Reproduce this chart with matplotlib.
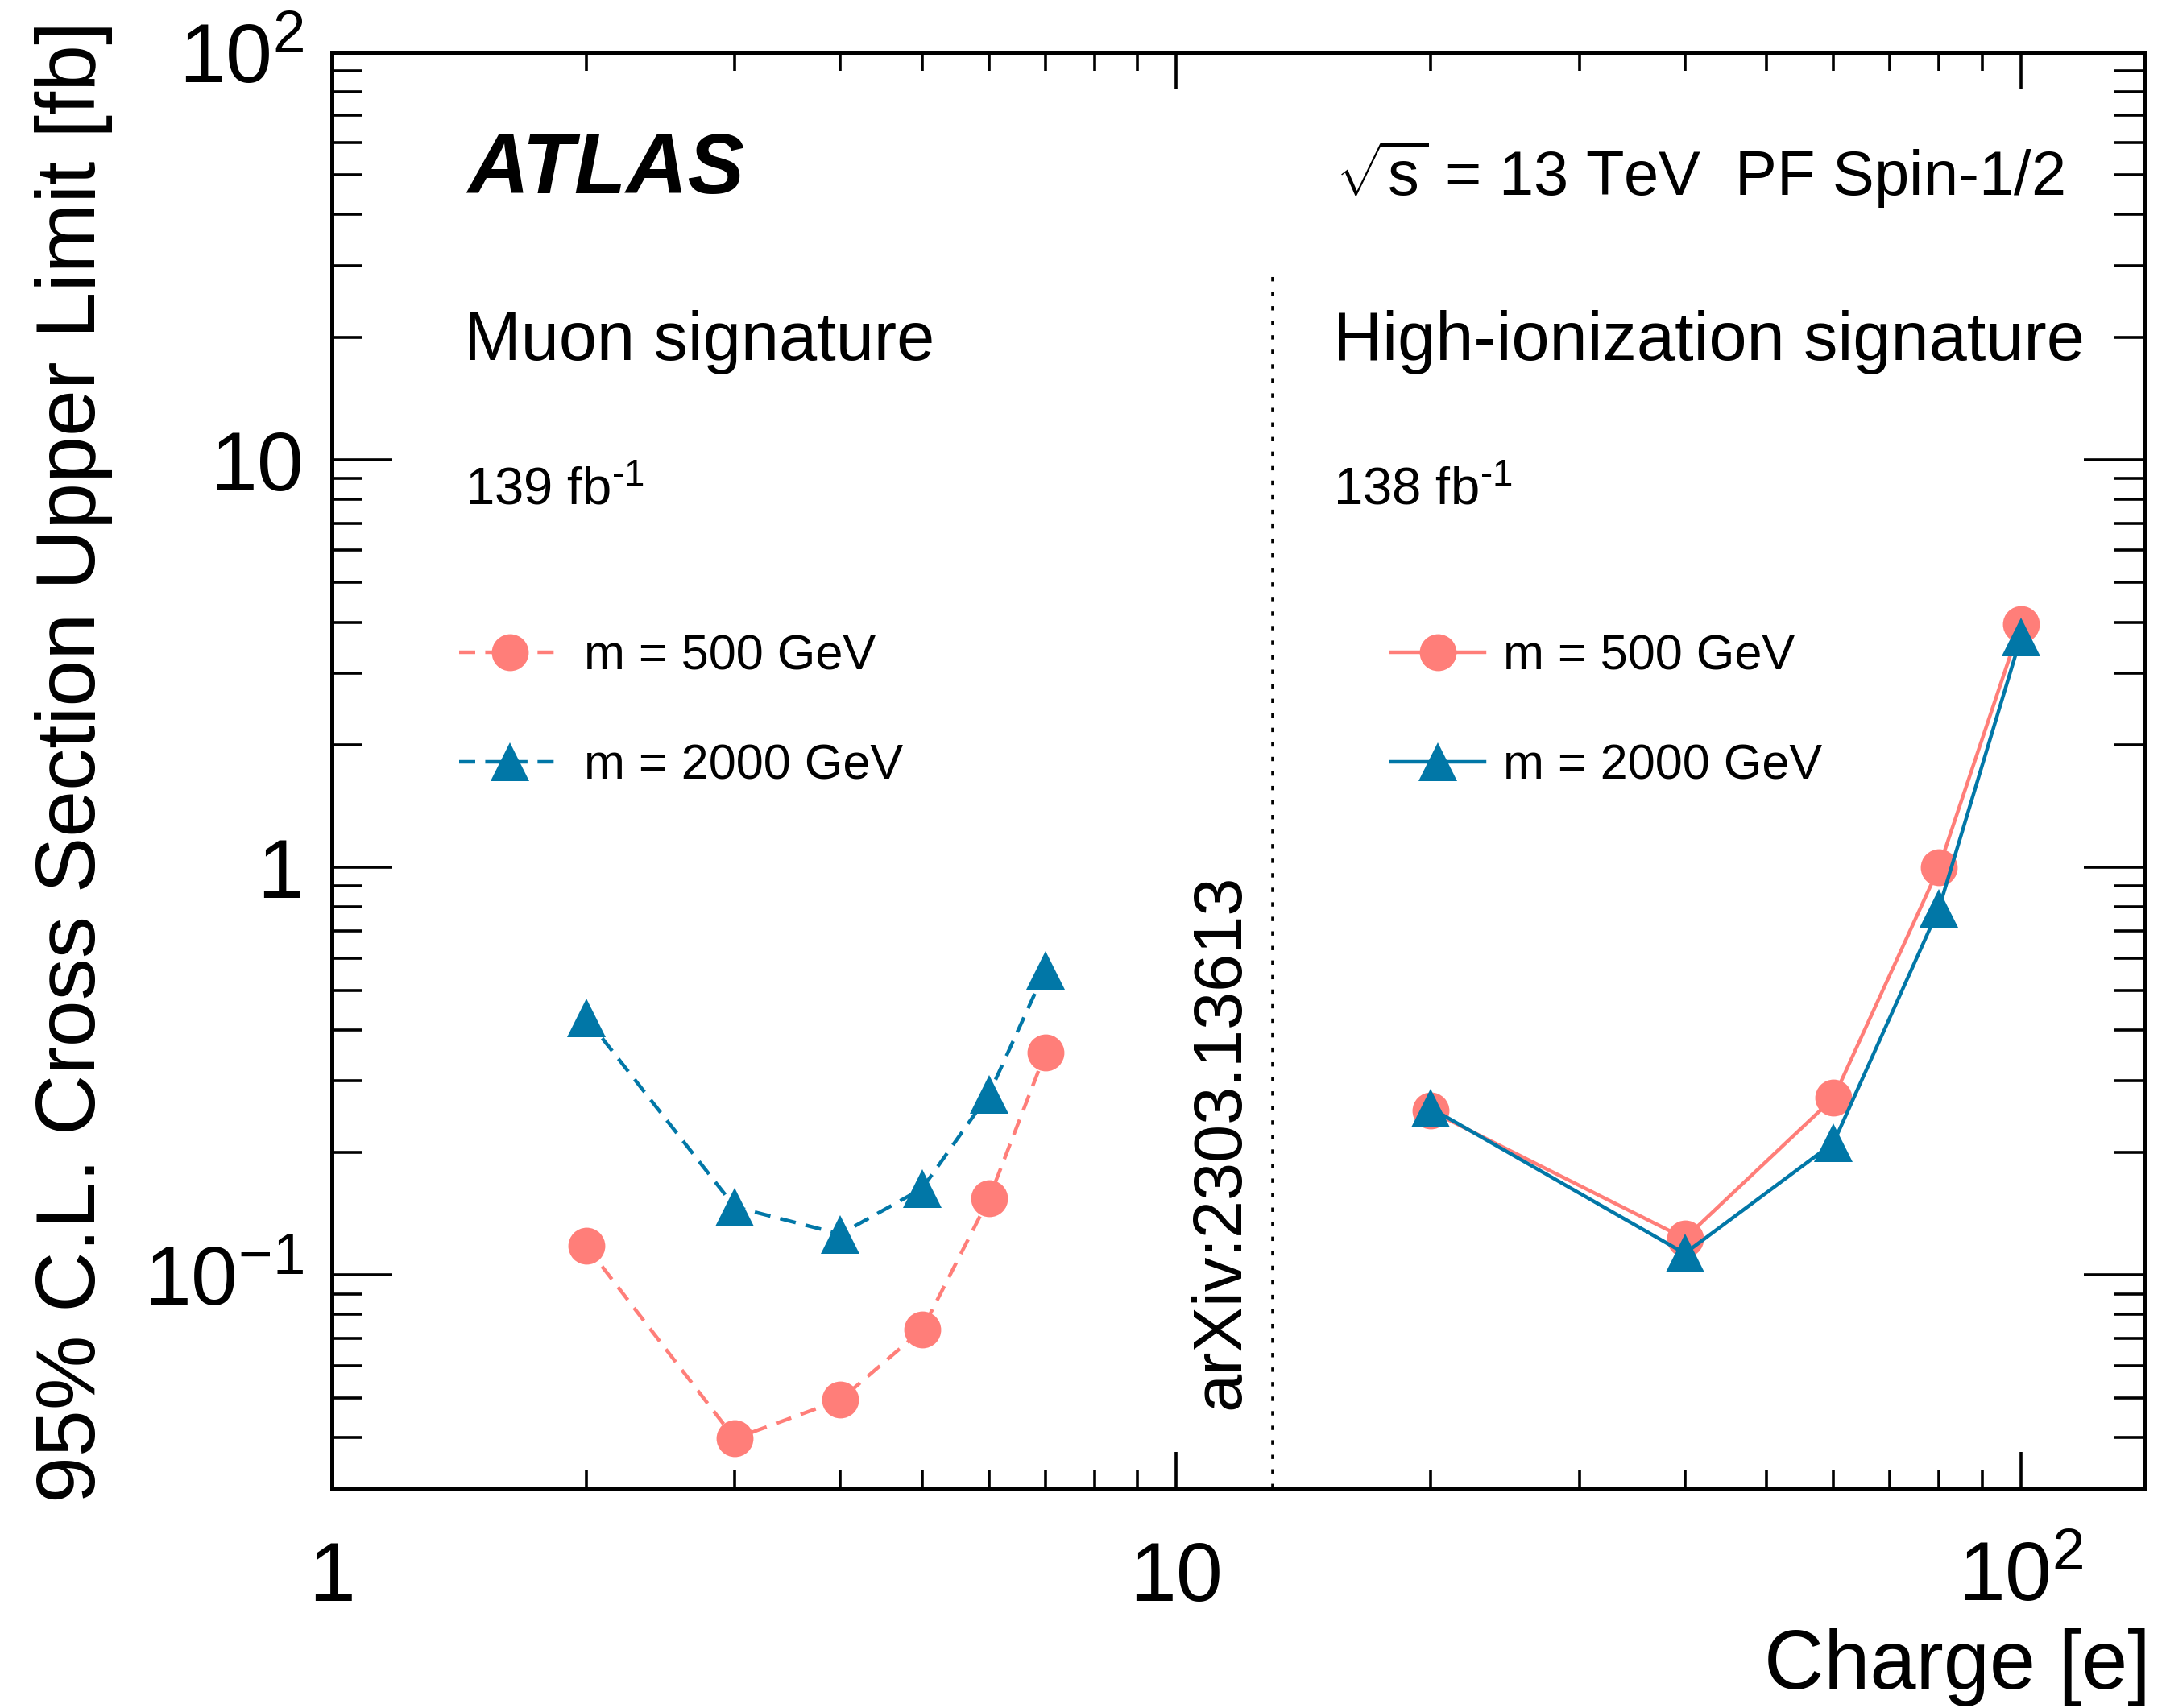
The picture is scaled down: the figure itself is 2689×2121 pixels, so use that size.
import numpy as np
from matplotlib import pyplot as plt
from matplotlib import rcParams
from matplotlib.ticker import FixedLocator, NullFormatter

rcParams['font.family'] = ['Liberation Sans', 'DejaVu Sans']
rcParams['mathtext.fontset'] = 'custom'
rcParams['mathtext.rm'] = 'Liberation Sans'
rcParams['mathtext.it'] = 'Liberation Sans:italic'
rcParams['mathtext.bf'] = 'Liberation Sans:bold'
rcParams['mathtext.default'] = 'regular'

# muon signature (low charge)
muon_charge = [2, 3, 4, 5, 6, 7]
muon_m500 = [0.118, 0.0397, 0.0494, 0.0735, 0.154, 0.351]
muon_m2000 = [0.428, 0.147, 0.126, 0.163, 0.278, 0.560]

# high-ionization signature (high charge)
hip_charge = [20, 40, 60, 80, 100]
hip_m500 = [0.253, 0.123, 0.272, 1.0, 3.96]
hip_m2000 = [0.257, 0.113, 0.211, 0.794, 3.67]

mass_labels = ['m = 500 GeV', 'm = 2000 GeV']
xticks = [1, 10, 100]
xticklabels = ['1', '10', '$10^{2}$']
yticks = [0.1, 1, 10, 100]
yticklabels = ['$10^{-1}$', '1', '10', '$10^{2}$']

col500 = '#FF7E79'
col2000 = '#0177A7'

fig = plt.figure(figsize=(26.89, 21.21), dpi=100)
ax = fig.add_axes([412/2689, 1-1848/2121, 2250/2689, 1783/2121])
ax.set_xscale('log')
ax.set_yscale('log')
ax.set_xlim(1, 140)
ax.set_ylim(0.03, 100)

lw = 3.2
dash = (0, (4.5, 2.8))
l1, = ax.plot(muon_charge, muon_m500, color=col500, ls=dash, lw=lw,
              marker='o', ms=33, mew=0)
l2, = ax.plot(muon_charge, muon_m2000, color=col2000, ls=dash, lw=lw,
              marker='^', ms=34, mew=0)
l3, = ax.plot(hip_charge, hip_m500, color=col500, ls='-', lw=lw,
              marker='o', ms=33, mew=0)
l4, = ax.plot(hip_charge, hip_m2000, color=col2000, ls='-', lw=lw,
              marker='^', ms=34, mew=0)

# separator between the two analyses
sep_charge, sep_top = 13, 28.5
ax.plot([sep_charge, sep_charge], [0.03, sep_top], color='black', lw=2.6,
        ls=(0, (1.5, 3.5)))

# axes / ticks in ROOT style
for s in ax.spines.values():
    s.set_linewidth(3.6)
ax.xaxis.set_major_locator(FixedLocator(xticks))
ax.xaxis.set_minor_locator(FixedLocator([2, 3, 4, 5, 6, 7, 8, 9,
                                         20, 30, 40, 50, 60, 70, 80, 90]))
ax.yaxis.set_major_locator(FixedLocator(yticks))
ax.yaxis.set_minor_locator(FixedLocator(
    [m * d for d in (0.01, 0.1, 1, 10) for m in range(2, 10) if m * d >= 0.03]))
ax.xaxis.set_minor_formatter(NullFormatter())
ax.yaxis.set_minor_formatter(NullFormatter())
ax.set_xticklabels(xticklabels)
ax.set_yticklabels(yticklabels)

ax.tick_params(which='both', direction='in', top=True, right=True, width=2.6,
               labelsize=75)
ax.tick_params(axis='x', which='major', length=32.4, pad=100.8)
ax.tick_params(axis='x', which='minor', length=16.6)
ax.tick_params(axis='y', which='major', length=54, pad=25)
ax.tick_params(axis='y', which='minor', length=26.6)
for lab in ax.get_xticklabels():
    lab.set_verticalalignment('baseline')

ax.set_xlabel('Charge [e]', fontsize=74, loc='right', va='baseline')
ax.xaxis.set_label_coords(1.0036, -0.1397)
ax.set_ylabel('95% C.L. Cross Section Upper Limit [fb]', fontsize=75,
              loc='top', va='baseline')
ax.yaxis.set_label_coords(-0.1307, 1.022)

# labels
ax.text(0.0747, 0.902, 'ATLAS', transform=ax.transAxes, fontsize=76,
        fontweight='bold', fontstyle='italic')
ax.text(0.554, 0.900, r'$\sqrt{s}$ = 13 TeV  PF Spin-1/2',
        transform=ax.transAxes, fontsize=56)
ax.text(0.0729, 0.786, 'Muon signature', transform=ax.transAxes, fontsize=61)
ax.text(0.5524, 0.786, 'High-ionization signature', transform=ax.transAxes,
        fontsize=61)
ax.text(0.0733, 0.685, '139 fb$^{\u2010 1}$', transform=ax.transAxes, fontsize=47)
ax.text(0.5524, 0.685, '138 fb$^{\u2010 1}$', transform=ax.transAxes, fontsize=47)
ax.text(0.5004, 0.055, 'arXiv:2303.13613', transform=ax.transAxes,
        fontsize=61, rotation=90, rotation_mode='anchor', ha='left',
        va='baseline')

leg_kw = dict(loc='upper left', frameon=False, fontsize=44, numpoints=1,
              labelspacing=1.3, borderpad=0, borderaxespad=0)
leg1 = ax.legend([l1, l2], mass_labels, bbox_to_anchor=(0.0702, 0.595),
                 handlelength=2.05, handletextpad=0.49, **leg_kw)
ax.add_artist(leg1)
ax.legend([l3, l4], mass_labels, bbox_to_anchor=(0.5844, 0.595),
          handlelength=1.9, handletextpad=0.38, **leg_kw)

fig.savefig('out.png', dpi=100)
